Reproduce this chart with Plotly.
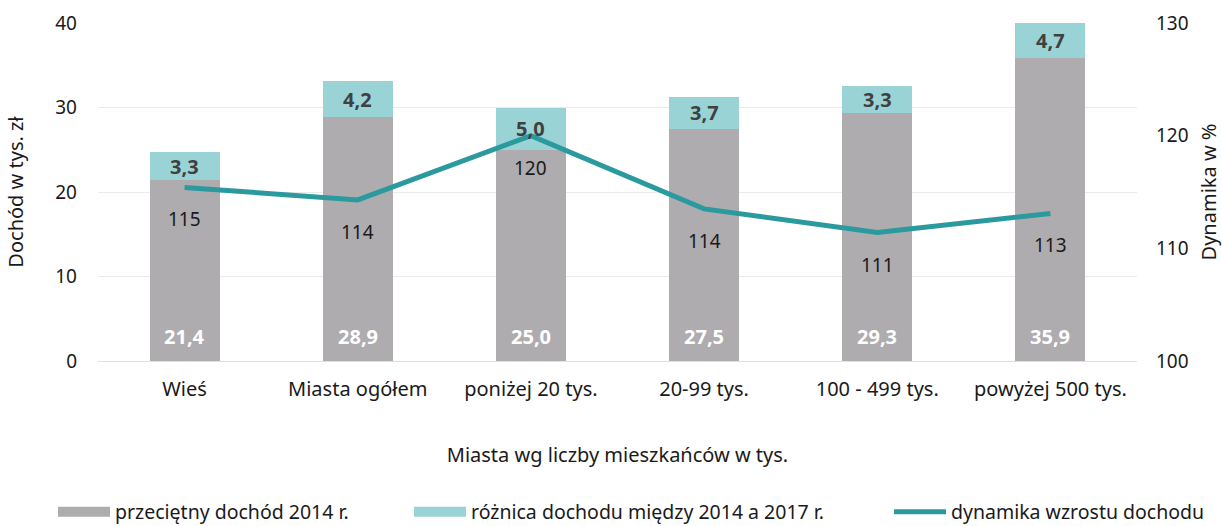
import plotly.graph_objects as go

categories = ["Wieś", "Miasta ogółem", "poniżej 20 tys.", "20-99 tys.", "100 - 499 tys.", "powyżej 500 tys."]
income_2014 = [21.4, 28.9, 25.0, 27.5, 29.3, 35.9]
income_diff = [3.3, 4.2, 5.0, 3.7, 3.3, 4.7]
growth = [115.4, 114.3, 120.0, 113.5, 111.4, 113.1]
growth_labels = ["115", "114", "120", "114", "111", "113"]
left_ticks = [0, 10, 20, 30, 40]
right_ticks = [100, 110, 120, 130]

FONT = "Noto Sans"
GRAY = "#aeacaf"
TEAL_LIGHT = "#9ad3d6"
TEAL = "#2a9a9f"
TXT = "#1a1a1a"
YMAX = 40

def fmt(v):
    return f"{v:.1f}".replace(".", ",")

fig = go.Figure()
fig.add_trace(go.Bar(x=categories, y=income_2014, name="przeciętny dochód 2014 r.",
                     marker=dict(color=GRAY, line=dict(width=0)), showlegend=False))
fig.add_trace(go.Bar(x=categories, y=income_diff, name="różnica dochodu między 2014 a 2017 r.",
                     marker=dict(color=TEAL_LIGHT, line=dict(width=0)), showlegend=False))
fig.add_trace(go.Scatter(x=categories, y=growth, yaxis="y2", mode="lines",
                         name="dynamika wzrostu dochodu", showlegend=True,
                         line=dict(color=TEAL, width=5), legend="legend3"))
# legend swatches for the bar series (wide rectangles as in the reference)
fig.add_trace(go.Scatter(x=[None], y=[None], mode="lines", name="przeciętny dochód 2014 r.",
                         line=dict(color=GRAY, width=13), legend="legend", showlegend=True))
fig.add_trace(go.Scatter(x=[None], y=[None], mode="lines",
                         name="różnica dochodu między 2014 a 2017 r.",
                         line=dict(color=TEAL_LIGHT, width=13), legend="legend2", showlegend=True))

ann = []
for c, g, d, gr, gl in zip(categories, income_2014, income_diff, growth, growth_labels):
    ann.append(dict(x=c, y=0, xref="x", yref="y", yshift=25, text=f"<b>{fmt(g)}</b>",
                    showarrow=False, font=dict(family=FONT, size=20, color="white")))
    top = min(g + d, YMAX)
    ann.append(dict(x=c, y=(g + top) / 2, xref="x", yref="y", text=f"<b>{fmt(d)}</b>",
                    showarrow=False, font=dict(family=FONT, size=20, color="#404040")))
    ann.append(dict(x=c, y=gr, xref="x", yref="y2", yshift=-32, text=gl,
                    showarrow=False, font=dict(family=FONT, size=19, color=TXT)))

legend_common = dict(orientation="h", yanchor="middle", y=(361 - 512) / 338, xanchor="left",
                     font=dict(family=FONT, size=19.5, color=TXT),
                     bgcolor="rgba(0,0,0,0)", itemwidth=52)

fig.update_layout(
    width=1222, height=526,
    margin=dict(l=98, r=85, t=23, b=165, autoexpand=False),
    paper_bgcolor="white", plot_bgcolor="white",
    barmode="stack", bargap=0.595, showlegend=True,
    font=dict(family=FONT, size=20, color=TXT),
    xaxis=dict(tickfont=dict(size=20), showgrid=False, showline=False, ticks="",
               ticklabelstandoff=14, automargin=False,
               title=dict(text="Miasta wg liczby mieszkańców w tys.", standoff=46,
                          font=dict(size=20))),
    yaxis=dict(range=[0, YMAX], tickvals=left_ticks, showgrid=True, gridcolor="#ebebeb",
               gridwidth=1, zeroline=True, zerolinecolor="#e0e0e0", zerolinewidth=1,
               ticks="", ticklabelstandoff=20, tickfont=dict(size=19), automargin=False,
               title=dict(text="Dochód w tys. zł", standoff=26, font=dict(size=20))),
    yaxis2=dict(range=[100, 130], tickvals=right_ticks, overlaying="y", side="right",
                showgrid=False, zeroline=False, ticks="", ticklabelstandoff=18,
                tickfont=dict(size=19), automargin=False,
                title=dict(text="Dynamika w %", standoff=14, font=dict(size=20))),
    legend=dict(x=(53 - 98) / 1039, **legend_common),
    legend2=dict(x=(409 - 98) / 1039, **legend_common),
    legend3=dict(x=(889 - 98) / 1039, **legend_common),
    annotations=ann,
)

fig.write_html("out.html", config={"displayModeBar": False},
               post_script="document.body.style.margin='0';")
